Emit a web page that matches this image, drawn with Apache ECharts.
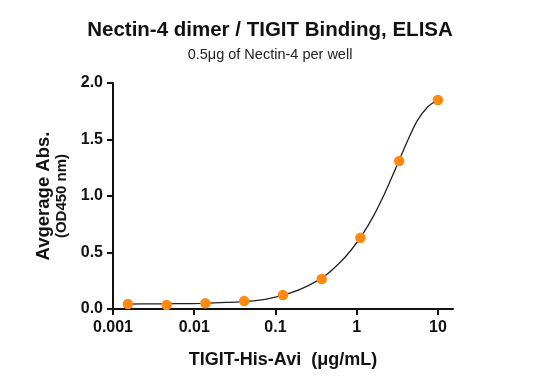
<!DOCTYPE html>
<html>
<head>
<meta charset="utf-8">
<script src="https://cdn.jsdelivr.net/npm/echarts@6/dist/echarts.min.js"></script>
<style>
html,body{margin:0;padding:0;background:#fff;}
#c{width:559px;height:380px;}
</style>
</head>
<body>
<div id="c"></div>
<script>
// Concentrations (µg/mL) and measured absorbance
var conc = [10, 3.333, 1.111, 0.3704, 0.1235, 0.04115, 0.01372, 0.004572, 0.001524];
var absVals = [1.85, 1.31, 0.63, 0.265, 0.124, 0.07, 0.05, 0.036, 0.044];
// Fitted curve
var curveConc = [0.001524, 0.003, 0.006, 0.012, 0.025, 0.045, 0.08, 0.15, 0.25, 0.4, 0.6, 0.85, 1.2, 1.6, 2.2, 3.0, 4.0, 5.5, 7.5, 10];
var curveAbs  = [0.044, 0.045, 0.047, 0.050, 0.058, 0.068, 0.090, 0.140, 0.205, 0.290, 0.400, 0.520, 0.670, 0.820, 1.020, 1.240, 1.450, 1.660, 1.790, 1.850];
var xTicks = [-3, -2, -1, 0, 1];
var xTickLabels = ['0.001', '0.01', '0.1', '1', '10'];
var yTicks = ['0.0', '0.5', '1.0', '1.5', '2.0'];

function lg(v){ return Math.log10(v); }
var pts = conc.map(function(c,i){ return [lg(c), absVals[i]]; });
var curve = curveConc.map(function(c,i){ return [lg(c), curveAbs[i]]; });

var chart = echarts.init(document.getElementById('c'), null, {renderer:'canvas'});
var font = 'Liberation Sans, Arial, Helvetica, sans-serif';
chart.setOption({
  animation: false,
  backgroundColor: '#fff',
  title: [{
    text: 'Nectin-4 dimer / TIGIT Binding, ELISA',
    left: 265, top: 15, textAlign: 'center',
    textStyle: {fontFamily: font, fontSize: 20.5, fontWeight: 'bold', color: '#111'}
  },{
    text: '0.5μg of Nectin-4 per well',
    left: 265, top: 42, textAlign: 'center',
    textStyle: {fontFamily: font, fontSize: 14.5, fontWeight: 'normal', color: '#222'}
  }],
  grid: {left: 113, right: 106, top: 83, bottom: 71, containLabel: false},
  xAxis: {
    type: 'value', min: -3, max: 1.185,
    axisLine: {show: true, onZero: false, lineStyle: {color: '#111', width: 2}},
    axisTick: {show: true, length: 6, lineStyle: {color: '#111', width: 2}, customValues: xTicks},
    axisLabel: {customValues: xTicks, margin: 11, fontFamily: font, fontSize: 16, fontWeight: 'bold', color: '#111',
      formatter: function(v){ var i = xTicks.indexOf(Math.round(v)); return i >= 0 ? xTickLabels[i] : ''; }},
    splitLine: {show: false},
    name: 'TIGIT-His-Avi  (μg/mL)', nameLocation: 'middle', nameGap: 42,
    nameTextStyle: {fontFamily: font, fontSize: 18, fontWeight: 'bold', color: '#111'}
  },
  yAxis: {
    type: 'value', min: 0, max: 2, interval: 0.5,
    axisLine: {show: true, onZero: false, lineStyle: {color: '#111', width: 2}},
    axisTick: {show: true, length: 6, lineStyle: {color: '#111', width: 2}},
    axisLabel: {margin: 10, fontFamily: font, fontSize: 16, fontWeight: 'bold', color: '#111',
      formatter: function(v){ return yTicks[Math.round(v/0.5)]; }},
    splitLine: {show: false},
    name: '{a|Avgerage Abs.}\n{b|(OD450 nm)}', nameLocation: 'middle', nameGap: 41,
    nameTextStyle: {fontFamily: font, color: '#111', align: 'center',
      rich: {a: {fontFamily: font, fontSize: 18.5, fontWeight: 'bold', color: '#111', lineHeight: 20, align: 'center'},
             b: {fontFamily: font, fontSize: 15, fontWeight: 'bold', color: '#111', lineHeight: 17, align: 'center'}}}
  },
  series: [{
    type: 'line', data: curve, smooth: 0.3, showSymbol: false, z: 2,
    lineStyle: {color: '#222', width: 1.3}
  },{
    type: 'scatter', data: pts, symbolSize: 10.5, z: 3,
    itemStyle: {color: '#ff8a12', opacity: 1}
  }]
});
</script>
</body>
</html>
